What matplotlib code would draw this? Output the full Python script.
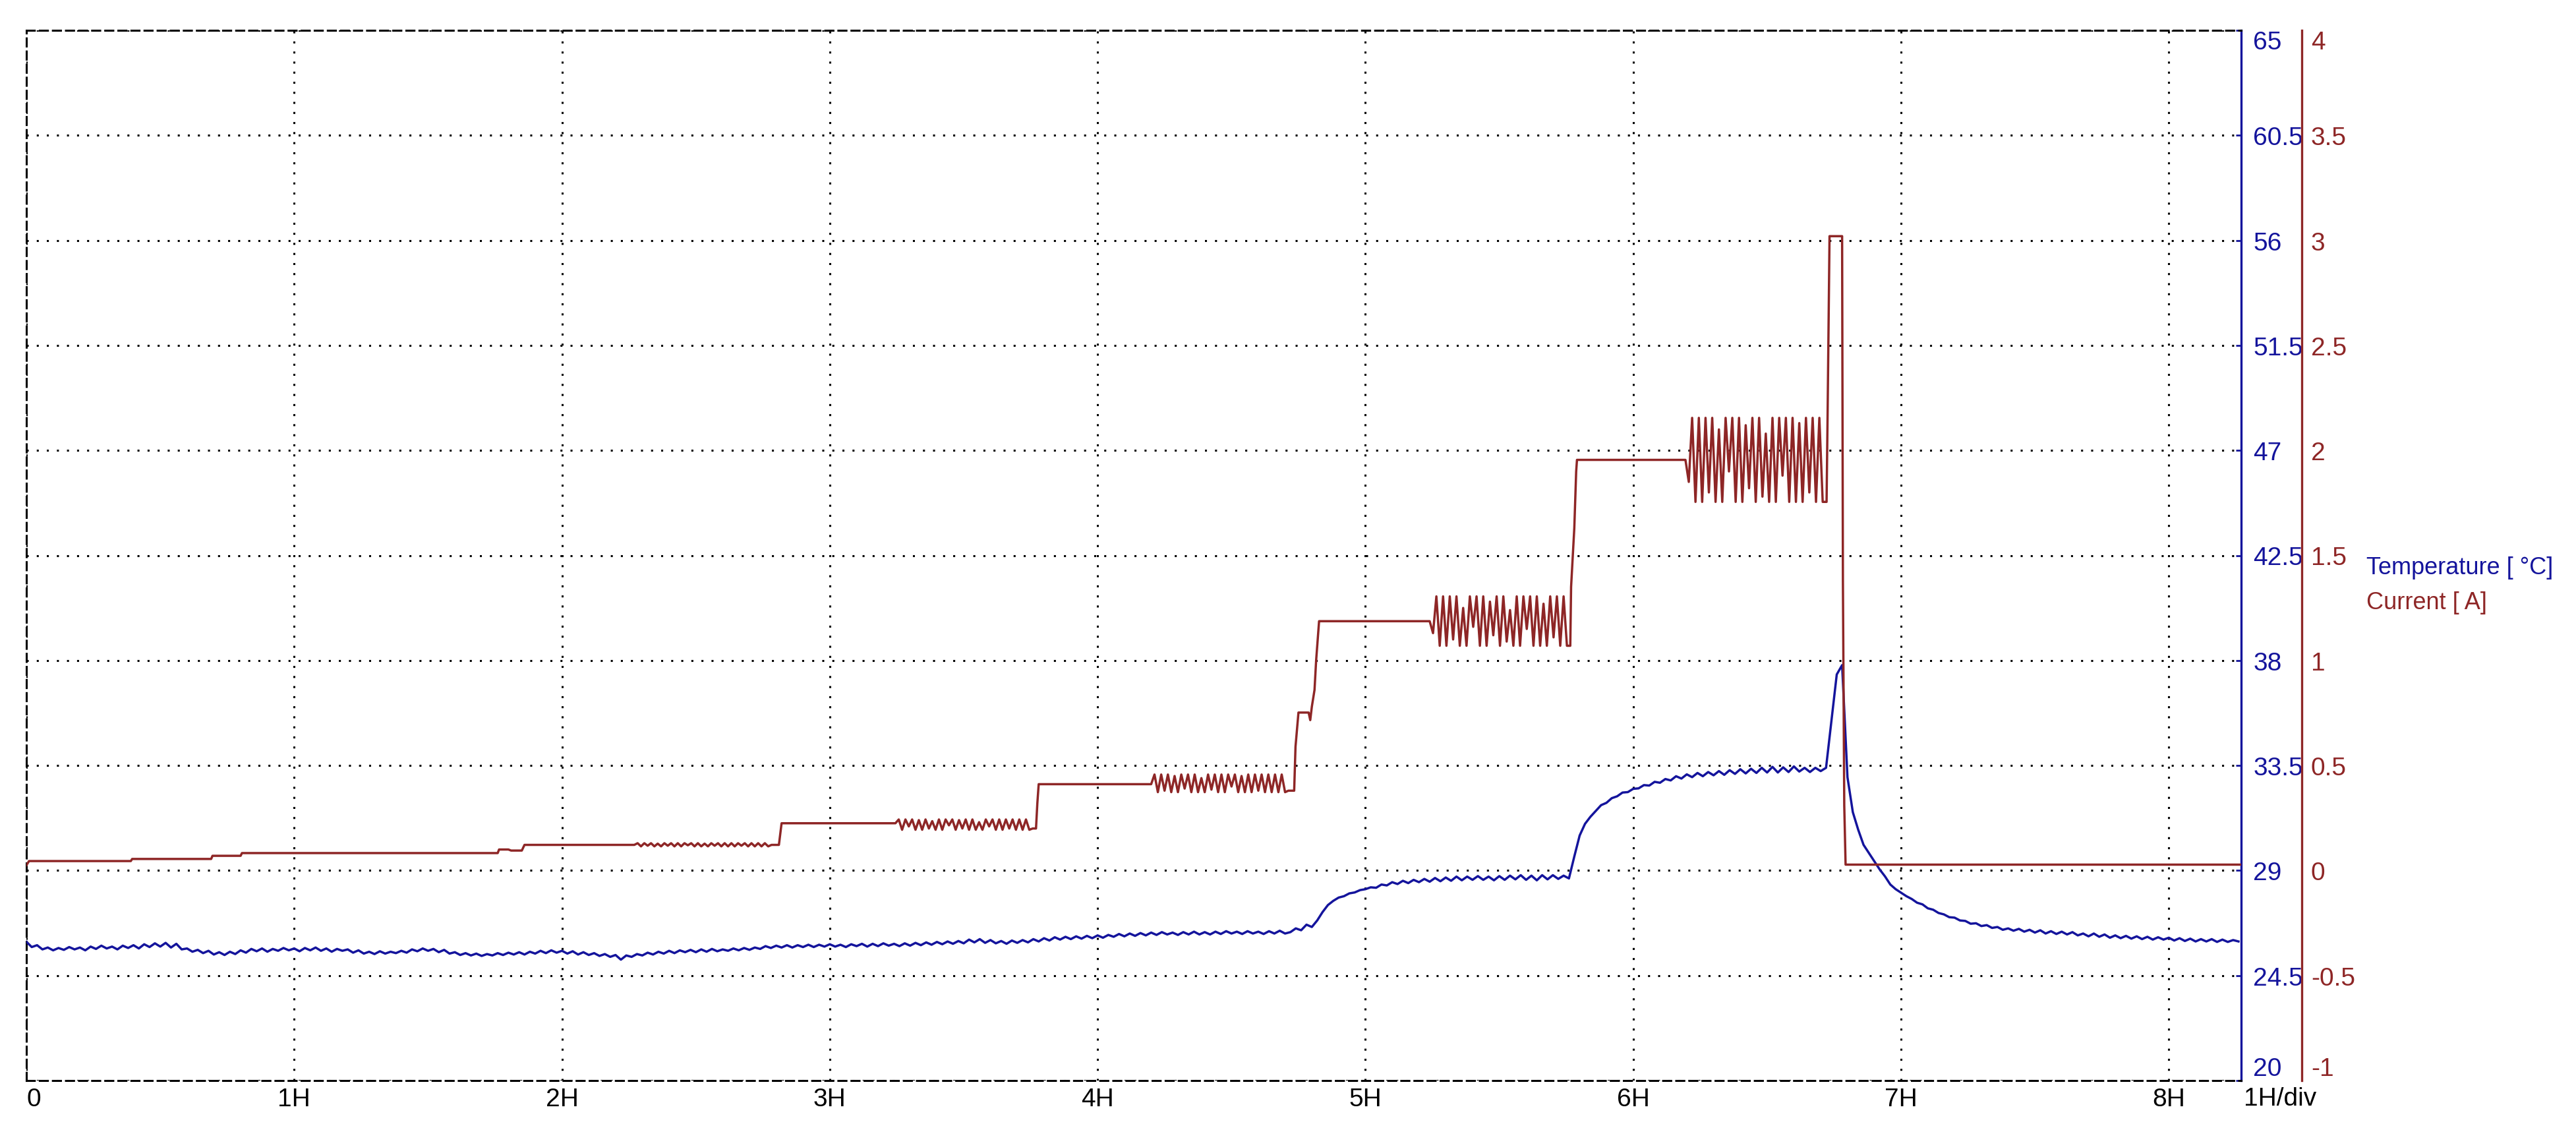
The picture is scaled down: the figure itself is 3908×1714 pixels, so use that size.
import numpy as np
import matplotlib
matplotlib.use('Agg')
import matplotlib.pyplot as plt

plt.rcParams['font.family'] = ['Liberation Sans', 'DejaVu Sans']

BLUE = '#14149c'
RED = '#8e2626'

# time axis labels
x_ticks = [0, 1, 2, 3, 4, 5, 6, 7, 8]
x_labels = ['0', '1H', '2H', '3H', '4H', '5H', '6H', '7H', '8H']
temp_ticks = [20, 24.5, 29, 33.5, 38, 42.5, 47, 51.5, 56, 60.5, 65]
curr_ticks = [-1, -0.5, 0, 0.5, 1, 1.5, 2, 2.5, 3, 3.5, 4]

# temperature [°C], one sample every 0.02 H
temp_dt = 0.02
temperature = [
    25.95, 25.72, 25.80, 25.62, 25.70, 25.58, 25.68, 25.60, 25.72, 25.62,
    25.70, 25.58, 25.74, 25.64, 25.78, 25.66, 25.74, 25.62, 25.78, 25.68,
    25.80, 25.66, 25.84, 25.72, 25.88, 25.74, 25.90, 25.70, 25.86, 25.62,
    25.66, 25.52, 25.60, 25.46, 25.56, 25.40, 25.50, 25.38, 25.52, 25.42,
    25.58, 25.48, 25.64, 25.54, 25.66, 25.52, 25.64, 25.56, 25.68, 25.58,
    # 1H
    25.66, 25.54, 25.68, 25.58, 25.70, 25.56, 25.66, 25.52, 25.64, 25.56,
    25.62, 25.48, 25.58, 25.44, 25.52, 25.42, 25.54, 25.44, 25.52, 25.46,
    25.56, 25.48, 25.62, 25.54, 25.66, 25.56, 25.64, 25.50, 25.60, 25.44,
    25.50, 25.38, 25.46, 25.36, 25.44, 25.34, 25.42, 25.36, 25.46, 25.38,
    25.48, 25.40, 25.50, 25.40, 25.52, 25.44, 25.56, 25.46, 25.58, 25.48,
    # 2H
    25.56, 25.44, 25.54, 25.40, 25.50, 25.38, 25.46, 25.34, 25.42, 25.30,
    25.38, 25.18, 25.36, 25.30, 25.42, 25.36, 25.48, 25.40, 25.52, 25.44,
    25.56, 25.46, 25.58, 25.50, 25.60, 25.50, 25.62, 25.52, 25.64, 25.54,
    25.62, 25.56, 25.66, 25.58, 25.68, 25.60, 25.70, 25.64, 25.76, 25.68,
    25.78, 25.70, 25.80, 25.70, 25.80, 25.72, 25.82, 25.72, 25.82, 25.74,
    # 3H
    25.84, 25.74, 25.82, 25.72, 25.84, 25.76, 25.86, 25.74, 25.86, 25.76,
    25.88, 25.78, 25.86, 25.76, 25.88, 25.78, 25.90, 25.80, 25.92, 25.82,
    25.94, 25.84, 25.96, 25.86, 25.98, 25.88, 26.04, 25.92, 26.06, 25.90,
    26.02, 25.88, 25.98, 25.86, 26.00, 25.90, 26.02, 25.92, 26.06, 25.96,
    26.10, 26.00, 26.14, 26.04, 26.16, 26.06, 26.18, 26.08, 26.20, 26.10,
    # 4H
    26.22, 26.12, 26.24, 26.16, 26.28, 26.18, 26.30, 26.20, 26.32, 26.22,
    26.34, 26.24, 26.36, 26.26, 26.34, 26.24, 26.36, 26.26, 26.38, 26.26,
    26.36, 26.26, 26.38, 26.28, 26.40, 26.30, 26.38, 26.28, 26.40, 26.30,
    26.38, 26.28, 26.40, 26.30, 26.42, 26.30, 26.36, 26.52, 26.44, 26.68,
    26.58, 26.86, 27.22, 27.52, 27.70, 27.84, 27.90, 28.02, 28.06, 28.16,
    # 5H
    28.20, 28.28, 28.26, 28.40, 28.36, 28.50, 28.42, 28.56, 28.46, 28.60,
    28.50, 28.64, 28.52, 28.68, 28.54, 28.70, 28.56, 28.74, 28.58, 28.74,
    28.60, 28.76, 28.60, 28.74, 28.58, 28.76, 28.60, 28.78, 28.62, 28.80,
    28.60, 28.78, 28.58, 28.80, 28.62, 28.80, 28.64, 28.78, 28.66, 29.60,
    30.50, 31.00, 31.30, 31.55, 31.80, 31.90, 32.10, 32.18, 32.34, 32.36,
    # 6H
    32.50, 32.52, 32.66, 32.64, 32.80, 32.76, 32.92, 32.86, 33.04, 32.94,
    33.12, 33.00, 33.18, 33.04, 33.22, 33.08, 33.26, 33.10, 33.30, 33.14,
    33.34, 33.16, 33.36, 33.18, 33.40, 33.20, 33.44, 33.20, 33.42, 33.22,
    33.46, 33.24, 33.40, 33.22, 33.40, 33.26, 33.40, 35.40, 37.40, 37.80,
    33.00, 31.50, 30.75, 30.10, 29.75, 29.40, 29.05, 28.75, 28.40, 28.20,
    # 7H
    28.05, 27.90, 27.78, 27.62, 27.55, 27.38, 27.32, 27.18, 27.12, 27.00,
    26.98, 26.86, 26.84, 26.72, 26.74, 26.62, 26.66, 26.54, 26.58, 26.46,
    26.52, 26.42, 26.50, 26.38, 26.46, 26.34, 26.44, 26.30, 26.40, 26.28,
    26.38, 26.26, 26.36, 26.22, 26.30, 26.18, 26.30, 26.16, 26.26, 26.12,
    26.22, 26.10, 26.20, 26.08, 26.18, 26.06, 26.16, 26.04, 26.14, 26.04,
    # 8H
    26.12, 26.00, 26.10, 25.98, 26.08, 25.96, 26.06, 25.96, 26.06, 25.94,
    26.04, 25.94, 26.02, 25.96,
]

# current [A]: step breakpoints (hours, amps)
step0_t = [0.0, 0.01, 0.39, 0.395, 0.69, 0.695, 0.80, 0.805, 1.76, 1.765, 1.80, 1.81, 1.85, 1.86]
step0_a = [0.025, 0.045, 0.045, 0.055, 0.055, 0.07, 0.07, 0.083, 0.083, 0.10, 0.10, 0.095, 0.095, 0.122]
step1_t = [2.81, 2.82]
step1_a = [0.122, 0.225]
step2_t = [3.77, 3.775, 3.78]
step2_a = [0.20, 0.32, 0.411]
step3_t = [4.734, 4.739, 4.75, 4.788, 4.794, 4.80, 4.81, 4.816, 4.827]
step3_a = [0.38, 0.59, 0.752, 0.752, 0.716, 0.78, 0.86, 1.0, 1.187]
step4_t = [5.765, 5.768, 5.78, 5.787, 5.79]
step4_a = [1.07, 1.35, 1.63, 1.9, 1.955]
step5_t = [6.722, 6.726, 6.733, 6.78, 6.783, 6.788, 6.793, 8.27]
step5_a = [1.755, 2.19, 3.02, 3.02, 1.376, 0.31, 0.028, 0.028]

# current regulation ripple, one sample every 0.0125 H
osc_dt = 0.0125
ripple_start = 2.27
ripple = [0.122, 0.13, 0.115, 0.13, 0.118, 0.13, 0.115, 0.128, 0.115, 0.13,
          0.118, 0.13, 0.115, 0.13, 0.115, 0.13, 0.12, 0.13, 0.115, 0.13,
          0.115, 0.128, 0.115, 0.13, 0.118, 0.13, 0.115, 0.13, 0.115, 0.13,
          0.115, 0.13, 0.118, 0.13, 0.115, 0.13, 0.115, 0.13, 0.115, 0.13,
          0.115, 0.122]
osc_a_start = 3.245
osc_a = [0.225, 0.243, 0.194, 0.243, 0.21, 0.243, 0.194, 0.24, 0.194, 0.243,
         0.20, 0.235, 0.194, 0.243, 0.194, 0.243, 0.215, 0.243, 0.194, 0.24,
         0.20, 0.243, 0.194, 0.243, 0.194, 0.23, 0.194, 0.243, 0.21, 0.243,
         0.194, 0.243, 0.194, 0.243, 0.20, 0.243, 0.194, 0.243, 0.194, 0.243,
         0.194, 0.20]
osc_b_start = 4.20
osc_b = [0.411, 0.457, 0.373, 0.457, 0.38, 0.457, 0.373, 0.45, 0.373, 0.457,
         0.39, 0.457, 0.373, 0.457, 0.373, 0.44, 0.373, 0.457, 0.385, 0.457,
         0.373, 0.457, 0.373, 0.457, 0.40, 0.457, 0.373, 0.45, 0.373, 0.457,
         0.373, 0.457, 0.38, 0.457, 0.373, 0.457, 0.373, 0.457, 0.373, 0.457,
         0.373, 0.38]
osc_c_start = 5.24
osc_c = [1.187, 1.13, 1.305, 1.07, 1.305, 1.07, 1.305, 1.10, 1.305, 1.07,
         1.25, 1.07, 1.305, 1.16, 1.305, 1.07, 1.305, 1.07, 1.28, 1.12,
         1.305, 1.07, 1.305, 1.09, 1.24, 1.07, 1.305, 1.07, 1.305, 1.15,
         1.305, 1.07, 1.305, 1.07, 1.27, 1.07, 1.305, 1.11, 1.305, 1.07,
         1.305, 1.07]
osc_d_start = 6.195
osc_d = [1.955, 1.85, 2.155, 1.755, 2.155, 1.755, 2.155, 1.80, 2.155, 1.755,
         2.10, 1.755, 2.155, 1.90, 2.155, 1.755, 2.155, 1.755, 2.12, 1.82,
         2.155, 1.755, 2.155, 1.78, 2.08, 1.755, 2.155, 1.755, 2.155, 1.88,
         2.155, 1.755, 2.155, 1.755, 2.13, 1.755, 2.155, 1.80, 2.155, 1.755,
         2.155, 1.755]


def osc_time(start, vals):
    return start + osc_dt * np.arange(len(vals))


cur_t = np.concatenate([step0_t, osc_time(ripple_start, ripple), step1_t,
                        osc_time(osc_a_start, osc_a), step2_t,
                        osc_time(osc_b_start, osc_b), step3_t,
                        osc_time(osc_c_start, osc_c), step4_t,
                        osc_time(osc_d_start, osc_d), step5_t])
cur_a = np.concatenate([step0_a, ripple, step1_a, osc_a, step2_a, osc_b,
                        step3_a, osc_c, step4_a, osc_d, step5_a])
temp_t = np.arange(len(temperature)) * temp_dt

W, H = 3908, 1715
fig = plt.figure(figsize=(W / 100, H / 100), dpi=100)
left, right, top, bottom = 40, 3400, 47, 1640
ax = fig.add_axes([left / W, 1 - bottom / H, (right - left) / W, (bottom - top) / H])
ax2 = ax.twinx()

# temperature axis (blue, right side)
ax.plot(temp_t, temperature, color=BLUE, lw=2.5, zorder=3)
ax.set_xlim(0, 8.27)
ax.set_ylim(20, 65)
ax.set_xticks(x_ticks, x_labels)
ax.set_yticks(temp_ticks, [f'{v:g}' for v in temp_ticks])
ax.yaxis.tick_right()
ax.set_axisbelow(True)
ax.grid(True, color='black', linestyle=(0, (1, 4)), linewidth=2.2)
for s in ['left', 'top', 'bottom']:
    ax.spines[s].set_linestyle((0, (4, 2.5)))
    ax.spines[s].set_linewidth(2.2)
ax.spines['right'].set_visible(True)
ax.spines['right'].set_color(BLUE)
ax.spines['right'].set_linewidth(2.4)
ax.tick_params(axis='x', length=0, pad=7, labelsize=28)
ax.tick_params(axis='y', which='both', left=False, labelleft=False,
               right=True, labelright=True, direction='in', length=6,
               width=2, colors=BLUE, labelsize=28, pad=13)
for lbl in ax.get_xticklabels():
    lbl.set_fontfamily(['Liberation Sans Narrow', 'Liberation Sans'])
ax.get_xticklabels()[0].set_ha('left')
ylbl = ax.get_yticklabels()
ylbl[0].set_va('bottom')
ylbl[-1].set_va('top')

# current axis (red, offset right)
ax2.plot(cur_t, cur_a, color=RED, lw=2.5, zorder=4)
ax2.set_ylim(-1, 4)
ax2.set_yticks(curr_ticks, [f'{v:g}' for v in curr_ticks])
for s in ['left', 'top', 'bottom']:
    ax2.spines[s].set_visible(False)
ax2.spines['right'].set_position(('axes', (3492 - left) / (right - left)))
ax2.spines['right'].set_color(RED)
ax2.spines['right'].set_linewidth(2.4)
ax2.tick_params(axis='y', length=0, colors=RED, labelsize=28, pad=10)
ylbl2 = ax2.get_yticklabels()
ylbl2[0].set_va('bottom')
ylbl2[-1].set_va('top')

fig.text(3590 / W, 1 - 862 / H, 'Temperature [ °C]', color=BLUE, fontsize=26, va='center')
fig.text(3590 / W, 1 - 915 / H, 'Current [ A]', color=RED, fontsize=26, va='center')
fig.text(3404 / W, 1 - 1667 / H, '1H/div', color='black', fontsize=28, va='center')

fig.savefig('out.png', dpi=100)
